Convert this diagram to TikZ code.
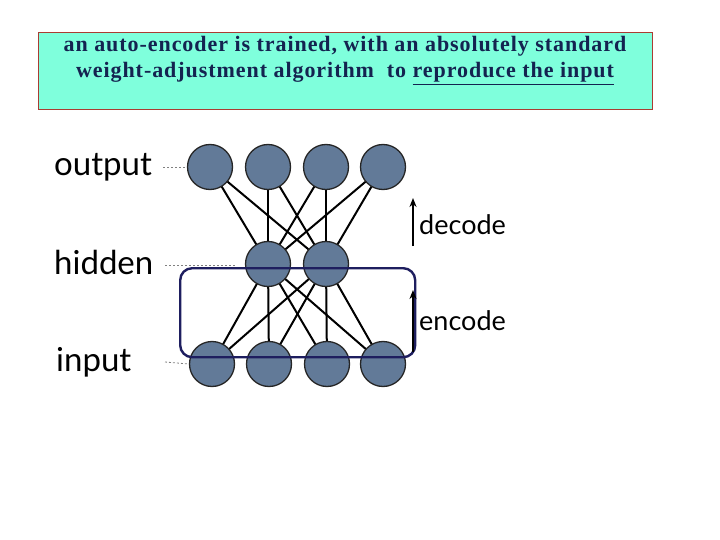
\documentclass[tikz,border=0pt]{standalone}
\usepackage{fontspec}
\newfontfamily\titlefont{Liberation Serif}[LetterSpace=4.3]
\newfontfamily\labfont{Lato}
\usetikzlibrary{arrows.meta,backgrounds}
\definecolor{boxfill}{RGB}{127,255,220}
\definecolor{boxline}{RGB}{170,60,50}
\definecolor{titlecol}{RGB}{20,35,80}
\definecolor{unitfill}{RGB}{98,122,152}
\definecolor{navyline}{RGB}{30,30,95}
\begin{document}
\begin{tikzpicture}[x=1pt,y=-1pt,
  unit/.style={circle,draw=black!85,line width=1.3pt,fill=unitfill,minimum size=45pt,inner sep=0pt},
  link/.style={line width=2pt,black},
  lay/.style={font=\labfont\fontsize{33}{36}\selectfont,anchor=base west,inner sep=0pt},
  dir/.style={font=\labfont\fontsize{27}{30}\selectfont,anchor=base west,inner sep=0pt},
  ttl/.style={font=\titlefont\bfseries\fontsize{22}{24}\selectfont,text=titlecol,anchor=base,inner sep=0pt},
  guide/.style={dash pattern=on 2pt off 2pt,gray,line width=0.8pt}]
\useasboundingbox (0,0) rectangle (720,540);
% title
\node (title) [draw=boxline,line width=0.8pt,fill=boxfill,minimum width=614pt,minimum height=77pt,anchor=north west,inner sep=0pt] at (38,32) {};
\node[ttl] (t1) at (345,52) {an auto-encoder is trained, with an absolutely standard};
\node[ttl] (t2) at (345,78) {weight-adjustment algorithm\ \ to \underline{reproduce the input}};
% units
\node[unit] (o1) at (210,167) {};
\node[unit] (o2) at (268,167) {};
\node[unit] (o3) at (326,167) {};
\node[unit] (o4) at (383,167) {};
\node[unit] (h1) at (268,264) {};
\node[unit] (h2) at (326,264) {};
\node[unit] (i1) at (212,364) {};
\node[unit] (i2) at (269,364) {};
\node[unit] (i3) at (327,364) {};
\node[unit] (i4) at (383,364) {};
% links
\begin{scope}[on background layer]
\foreach \o in {o1,o2,o3,o4}{\foreach \h in {h1,h2}{\draw[link] (\o.center) -- (\h.center);}}
\foreach \i in {i1,i2,i3,i4}{\foreach \h in {h1,h2}{\draw[link] (\i.center) -- (\h.center);}}
\end{scope}
% labels
\node[lay] (lo) at (54,176) {output};
\node[lay] (lh) at (54,274) {hidden};
\node[lay] (li) at (56,371) {input};
\coordinate (go) at (163,167);
\coordinate (gh) at (165,265);
\coordinate (gi) at (165,362);
\draw[guide] (go) -- (o1.west);
\draw[guide] (gh) -- (236,265);
\draw[guide] (gi) -- (i1.west);
% encoder box
\node (enc) [draw=navyline,line width=2.4pt,rounded corners=12pt,minimum width=235pt,minimum height=89pt,anchor=north west,inner sep=0pt] at (179,267) {};
% direction arrows
\coordinate (da) at (413,246);
\coordinate (db) at (413,198);
\draw[line width=1.6pt,-{Stealth[length=9pt,width=7pt]}] (da) -- (db);
\node[dir] (ld) at (419,235) {decode};
\coordinate (ea) at (413,352);
\coordinate (eb) at (413,290);
\draw[line width=1.6pt,-{Stealth[length=9pt,width=7pt]}] (ea) -- (eb);
\node[dir] (le) at (419,330) {encode};
\end{tikzpicture}
\end{document}
